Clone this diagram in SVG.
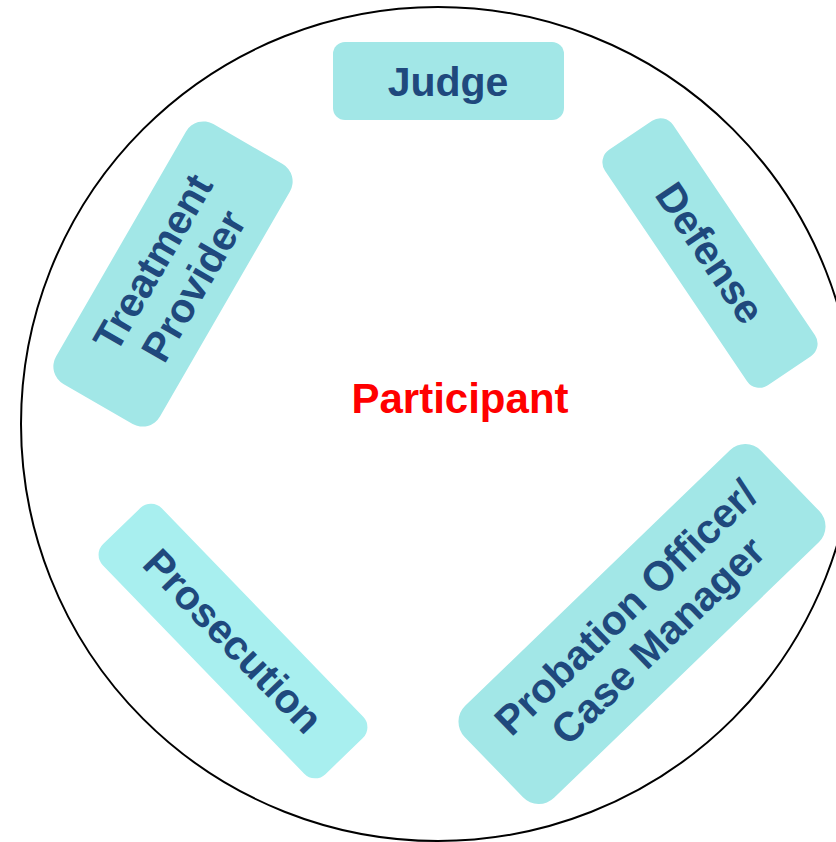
<svg xmlns="http://www.w3.org/2000/svg" width="836" height="842" viewBox="0 0 836 842">
<style>
.box{fill:#A2E7E7}
.lbl{font-family:"Liberation Sans",Arial,sans-serif;font-weight:bold;font-size:41px;fill:#1F497D;text-anchor:middle}
.center{font-family:"Liberation Sans",Arial,sans-serif;font-weight:bold;font-size:42px;fill:#FF0000;text-anchor:middle}
</style>
<rect width="836" height="842" fill="#FFFFFF"/>
<circle cx="438" cy="424" r="417" fill="none" stroke="#000000" stroke-width="2"/>
<g id="participant">
<text class="center" x="460" y="413">Participant</text>
</g>
<g id="judge">
<rect class="box" x="333" y="42" width="231" height="78" rx="12"/>
<text class="lbl" x="448" y="96" font-size="42">Judge</text>
</g>
<g id="treatment" transform="translate(173,274) rotate(-60)">
<rect class="box" x="-150" y="-60" width="300" height="120" rx="20"/>
<text class="lbl" x="0" y="-9">Treatment</text>
<text class="lbl" x="0" y="38">Provider</text>
</g>
<g id="defense" transform="translate(710,253) rotate(56)">
<rect class="box" x="-142" y="-41" width="284" height="82" rx="15"/>
<text class="lbl" x="0" y="14">Defense</text>
</g>
<g id="prosecution" transform="translate(233,641) rotate(46)">
<rect x="-160" y="-41" width="320" height="82" rx="15" fill="#A8EFEF"/>
<text class="lbl" x="0" y="14">Prosecution</text>
</g>
<g id="probation" transform="translate(642,624) rotate(-44)">
<rect class="box" x="-206" y="-64" width="412" height="128" rx="22"/>
<text class="lbl" x="0" y="-9" font-size="39">Probation Officer/</text>
<text class="lbl" x="0" y="37" font-size="39">Case Manager</text>
</g>
<g id="connectors"/>
</svg>
